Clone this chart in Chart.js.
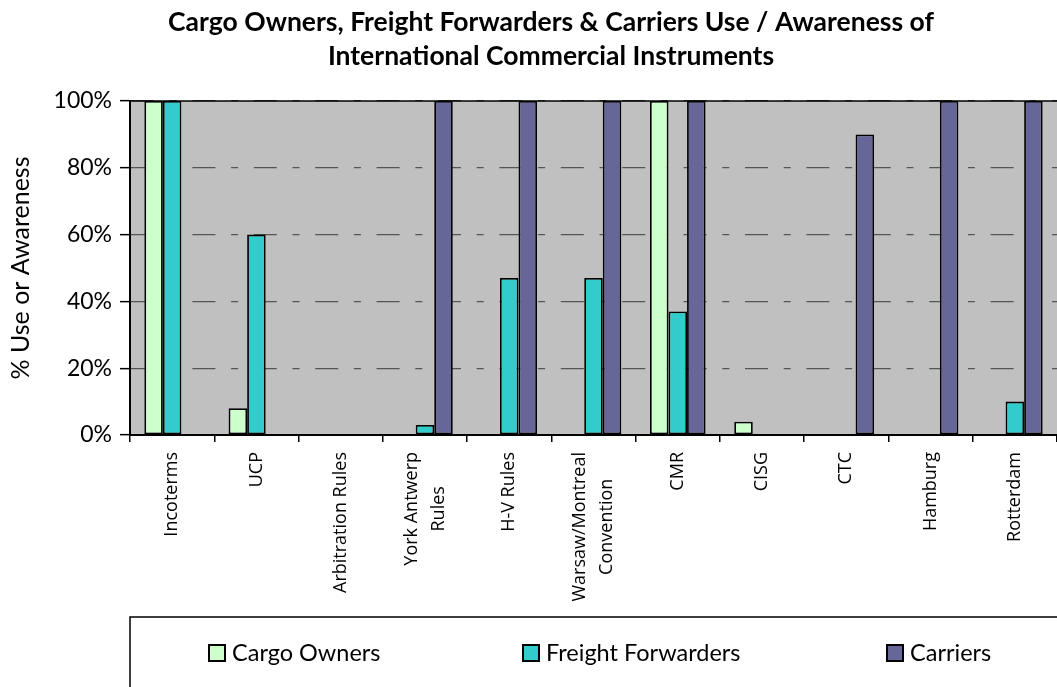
<!DOCTYPE html>
<html>
<head>
<meta charset="utf-8">
<script src="https://cdn.jsdelivr.net/npm/chart.js@4.4.0/dist/chart.umd.min.js"></script>
<style>
  html, body { margin: 0; padding: 0; background: #fff; }
  #wrap { width: 1057px; height: 687px; }
</style>
</head>
<body>
<div id="wrap"><canvas id="myChart" width="1057" height="687"></canvas></div>
<script>
const categories = ['Incoterms', 'UCP', 'Arbitration Rules', ['York Antwerp', 'Rules'], 'H-V Rules',
    ['Warsaw/Montreal', 'Convention'], 'CMR', 'CISG', 'CTC', 'Hamburg', 'Rotterdam'];
const cargoOwners = [100, 8, 0, 0, 0, 0, 100, 4, 0, 0, 0];
const freightForwarders = [100, 60, 0, 3, 47, 47, 37, 0, 0, 0, 10];
const carriers = [0, 0, 0, 100, 100, 100, 100, 0, 90, 100, 100];
const yTicks = [0, 20, 40, 60, 80, 100];
const titleLines = ['Cargo Owners, Freight Forwarders & Carriers Use / Awareness of', 'International Commercial Instruments'];

// fondo gris del area de datos y marco superior
const plotFrame = {
    id: 'plotFrame',
    beforeDraw(chart) {
        const { ctx, chartArea: a } = chart;
        ctx.save();
        ctx.fillStyle = '#C0C0C0';
        ctx.fillRect(a.left, a.top, a.right - a.left, a.bottom - a.top);
        ctx.restore();
    },
    afterDatasetsDraw(chart) {
        const { ctx, chartArea: a } = chart;
        ctx.save();
        ctx.strokeStyle = '#000';
        ctx.lineWidth = 1.5;
        ctx.beginPath();
        ctx.moveTo(a.left, a.top);
        ctx.lineTo(a.right, a.top);
        ctx.stroke();
        ctx.restore();
    }
};

// titulo centrado como en el original
const titleText = {
    id: 'titleText',
    afterDraw(chart) {
        const ctx = chart.ctx;
        ctx.save();
        ctx.fillStyle = '#000';
        ctx.font = 'bold 26.5px Lato';
        ctx.textAlign = 'center';
        ctx.textBaseline = 'alphabetic';
        ctx.fillText(titleLines[0], 551, 31);
        ctx.fillText(titleLines[1], 551, 65);
        ctx.restore();
    }
};

// etiquetas del eje x giradas, lineas centradas entre si
const xLabels = {
    id: 'xLabels',
    afterDraw(chart) {
        const ctx = chart.ctx;
        const xs = chart.scales.x;
        const lh = 27;
        ctx.save();
        ctx.fillStyle = '#000';
        ctx.font = '18px "Open Sans"';
        ctx.textAlign = 'center';
        ctx.textBaseline = 'middle';
        categories.forEach((lab, i) => {
            const lines = Array.isArray(lab) ? lab : [lab];
            const maxW = Math.max(...lines.map(l => ctx.measureText(l).width));
            const x = xs.getPixelForValue(i);
            ctx.save();
            ctx.translate(x, xs.top + 17);
            ctx.rotate(-Math.PI / 2);
            lines.forEach((l, j) => {
                ctx.fillText(l, -maxW / 2, (j - (lines.length - 1) / 2) * lh);
            });
            ctx.restore();
        });
        ctx.restore();
    }
};

// leyenda con recuadro
const boxLegend = {
    id: 'boxLegend',
    afterDraw(chart) {
        const ctx = chart.ctx;
        const itemX = [209, 523, 887];
        const y = 653;
        ctx.save();
        ctx.strokeStyle = '#000';
        ctx.lineWidth = 1.5;
        ctx.strokeRect(130, 617, 1000, 120);
        ctx.font = '23.5px Lato';
        ctx.textBaseline = 'middle';
        ctx.textAlign = 'left';
        chart.data.datasets.forEach((ds, i) => {
            ctx.fillStyle = ds.backgroundColor;
            ctx.fillRect(itemX[i], y - 8, 16, 16);
            ctx.lineWidth = 2;
            ctx.strokeRect(itemX[i], y - 8, 16, 16);
            ctx.fillStyle = '#000';
            ctx.fillText(ds.label, itemX[i] + 23, y);
        });
        ctx.restore();
    }
};

const ctx = document.getElementById('myChart').getContext('2d');
const myChart = new Chart(ctx, {
    type: 'bar',
    data: {
        labels: categories,
        datasets: [
            { label: 'Cargo Owners', data: cargoOwners, backgroundColor: '#CCFFCC' },
            { label: 'Freight Forwarders', data: freightForwarders, backgroundColor: '#33CCCC' },
            { label: 'Carriers', data: carriers, backgroundColor: '#666699' }
        ]
    },
    options: {
        responsive: false,
        animation: false,
        layout: { padding: { top: 101, left: 0, right: 0, bottom: 0 } },
        datasets: {
            bar: {
                categoryPercentage: 0.66,
                barPercentage: 1.0,
                borderColor: '#000',
                borderWidth: 1.8,
                borderSkipped: false
            }
        },
        plugins: {
            legend: { display: false },
            title: { display: false },
            tooltip: { enabled: false }
        },
        scales: {
            x: {
                offset: true,
                afterFit: s => { s.height = 252; },
                ticks: { display: false },
                grid: {
                    offset: true,
                    drawOnChartArea: false,
                    drawTicks: true,
                    tickLength: 7,
                    color: '#000',
                    lineWidth: 1.5
                },
                border: { display: true, color: '#000', width: 2 }
            },
            y: {
                min: 0,
                max: 100,
                afterFit: s => { s.width = 130; },
                afterBuildTicks: s => { s.ticks = yTicks.map(v => ({ value: v })); },
                ticks: {
                    callback: v => v + '%',
                    color: '#000',
                    font: { family: 'Lato', size: 23 },
                    padding: 8
                },
                grid: {
                    color: '#555555',
                    lineWidth: 1.3,
                    tickColor: '#000',
                    tickBorderDash: [],
                    tickLength: 10,
                    tickWidth: 1.5
                },
                border: {
                    display: true, color: '#000', width: 2,
                    dash: [23, 15.7, 7, 15.7], dashOffset: 0
                },
                title: {
                    display: true,
                    text: '% Use or Awareness',
                    color: '#000',
                    font: { family: 'Lato', size: 25 },
                    padding: { top: 6, bottom: 0 }
                }
            }
        }
    },
    plugins: [plotFrame, titleText, xLabels, boxLegend]
});
</script>
</body>
</html>
